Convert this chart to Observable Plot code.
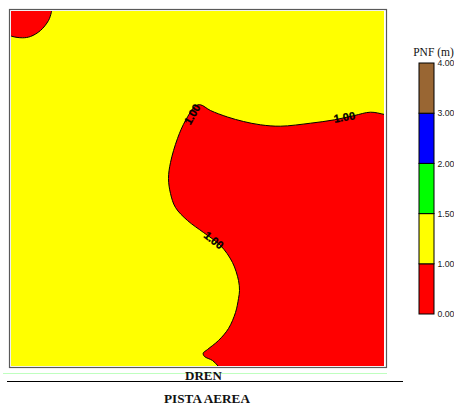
<!DOCTYPE html>
<html>
<head>
<meta charset="utf-8">
<script src="https://cdn.jsdelivr.net/npm/d3@7"></script>
<script src="https://cdn.jsdelivr.net/npm/@observablehq/plot@0.6"></script>
<style>
  html, body { margin: 0; padding: 0; background: #fff; }
  #chart { position: relative; width: 454px; height: 414px; overflow: hidden; }
  #chart svg { position: absolute; left: 0; top: 0; }
</style>
</head>
<body>
<div id="chart"></div>
<script>
// Contour line PNF = 1.00, traced along the plan view (x, y measured from the top-left corner of the area)
const mainContourX = [385, 373, 359, 343, 323, 299, 269, 249, 232, 216, 199, 189, 184, 174, 166, 159, 157, 159, 164, 176, 192, 209, 221, 227, 228, 227, 224, 217, 207, 196, 191.7, 193, 201, 207, 215];
const mainContourY = [106, 103, 100.7, 104, 108.3, 111.7, 114.7, 113.3, 110, 105.5, 99, 93.3, 94.5, 109, 127, 151, 167, 182, 196, 209, 221, 234, 251, 269, 279, 287, 301, 317, 329, 338, 341.7, 345, 349, 355, 364];
const mainClosureX = [215, 430, 430];
const mainClosureY = [420, 420, 106];

const cornerContourX = [41, 39.8, 37, 29, 19, 11, 0, -10];
const cornerContourY = [-6, 1, 9, 19, 25, 26.3, 24.7, 20];
const cornerClosureX = [-30, -30, 41];
const cornerClosureY = [20, -30, -30];

const contourLabelText = ["1.00", "1.00", "1.00"];
const contourLabelX = [181, 333, 202];
const contourLabelY = [103, 106, 229];
const contourLabelAngle = [-60, -10, 38];

// Legend: equal-height steps, one per class
const legendLabels = ["0.00", "1.00", "1.50", "2.00", "3.00", "4.00"];
const legendColors = ["#ff0000", "#ffff00", "#00ff00", "#0000ff", "#996633"];

const toPoints = (xs, ys) => xs.map((x, i) => ({x, y: ys[i]}));
const mainRegion = toPoints(mainContourX.concat(mainClosureX), mainContourY.concat(mainClosureY));
const cornerRegion = toPoints(cornerContourX.concat(cornerClosureX), cornerContourY.concat(cornerClosureY));
const labels = contourLabelText.map((t, i) => ({t, x: contourLabelX[i], y: contourLabelY[i], a: contourLabelAngle[i]}));
const bands = legendColors.map((c, i) => ({c, lo: i, hi: i + 1}));

const SANS = "'Liberation Sans', Arial, sans-serif";
const SERIF = "'Liberation Serif', 'Times New Roman', serif";

const main = Plot.plot({
  width: 454, height: 414,
  marginLeft: 11, marginRight: 70, marginTop: 11, marginBottom: 48,
  x: {domain: [0, 373], axis: null},
  y: {domain: [0, 355], reverse: true, axis: null},
  style: {background: "transparent"},
  marks: [
    Plot.rect([{}], {x1: -1.5, x2: 375.5, y1: -1.5, y2: 356.5, fill: "#fff", stroke: "#5a5a5a", strokeWidth: 1.2}),
    Plot.rect([{}], {x1: 0, x2: 373, y1: 0, y2: 355, fill: "#ffff00"}),
    Plot.line(mainRegion, {x: "x", y: "y", fill: "#ff0000", stroke: "#000", strokeWidth: 1, curve: "catmull-rom", clip: true}),
    Plot.line(cornerRegion, {x: "x", y: "y", fill: "#ff0000", stroke: "#000", strokeWidth: 1, curve: "catmull-rom", clip: true}),
    Plot.text(labels, {x: "x", y: "y", text: "t", rotate: "a", fill: "#000", stroke: "#000", strokeWidth: 0.3, fontSize: 11, fontFamily: SANS, fontWeight: "bold"}),
    Plot.ruleY([362], {x1: -8, x2: 376, stroke: "#bfffbf", strokeWidth: 1}),
    Plot.ruleY([370], {x1: -4, x2: 392, stroke: "#000", strokeWidth: 1}),
    Plot.text(["DREN"], {x: 192, y: 368, text: d => d, lineAnchor: "bottom", fontFamily: SERIF, fontWeight: "bold", fontSize: 13, fill: "#111"}),
    Plot.text(["PISTA AEREA"], {x: 195.5, y: 391, text: d => d, lineAnchor: "bottom", fontFamily: SERIF, fontWeight: "bold", fontSize: 13.2, fill: "#111"})
  ]
});

const legend = Plot.plot({
  width: 454, height: 414,
  marginLeft: 419, marginRight: 20, marginTop: 63, marginBottom: 100,
  x: {domain: [0, 1], axis: null},
  y: {domain: [0, legendColors.length], axis: null},
  style: {background: "transparent"},
  marks: [
    Plot.rect(bands, {x1: 0, x2: 1, y1: "lo", y2: "hi", fill: "c", stroke: "#000", strokeWidth: 1}),
    Plot.axisY(legendLabels.map((_, i) => i), {anchor: "right", label: null, tickSize: 0, tickPadding: 3, tickFormat: i => legendLabels[i], fontSize: 8.7, fontFamily: SANS, fill: "#222"}),
    Plot.text(["PNF (m)"], {frameAnchor: "top", text: d => d, dx: 6.5, dy: -8, lineAnchor: "bottom", fontFamily: SERIF, fontSize: 11.5, fill: "#111"})
  ]
});

const host = document.getElementById("chart");
host.append(main, legend);
</script>
</body>
</html>
